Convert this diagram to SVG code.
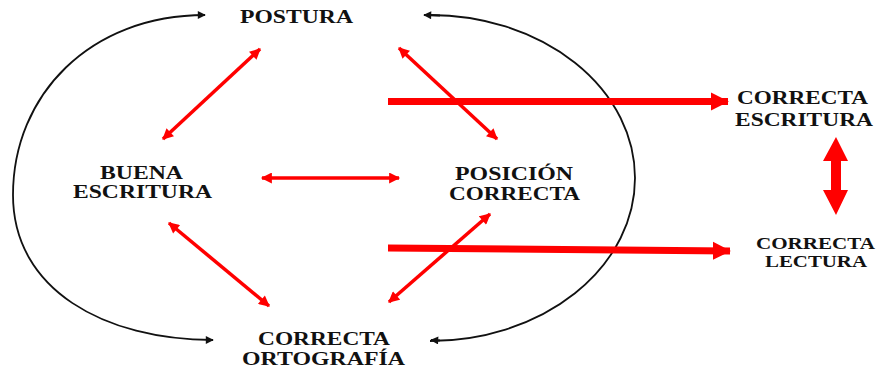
<svg xmlns="http://www.w3.org/2000/svg" width="879" height="373" viewBox="0 0 879 373">
<defs>
<style>
text{font-family:"Liberation Serif","Times New Roman",serif;font-weight:bold;font-size:18px;fill:#111}
.blk{fill:none;stroke:#111;stroke-width:1.8}
.red{fill:none;stroke:#f00;stroke-width:3.5}
.thick{fill:none;stroke:#f00;stroke-width:7}
</style>
<marker id="ah" viewBox="0 0 10 10" refX="9" refY="5" markerWidth="10" markerHeight="8" markerUnits="userSpaceOnUse" orient="auto">
<path d="M0,0 L10,5 L0,10 z" fill="#111"/>
</marker>
<marker id="rh" viewBox="0 0 10 10" refX="9" refY="5" markerWidth="13" markerHeight="11" markerUnits="userSpaceOnUse" orient="auto-start-reverse">
<path d="M0,0 L10,5 L0,10 z" fill="#f00"/>
</marker>
<marker id="th" viewBox="0 0 10 10" refX="9.5" refY="5" markerWidth="18" markerHeight="19" markerUnits="userSpaceOnUse" orient="auto">
<path d="M0,0 L10,5 L0,10 z" fill="#f00"/>
</marker>
</defs>
<g id="connectors">
<path class="blk" d="M13,195 C13,95 90,15 205,15" marker-end="url(#ah)"/>
<path class="blk" d="M13,195 C13,290 105,340 213,340" marker-end="url(#ah)"/>
<path class="blk" d="M430,15 A205,163 0 0 1 430,341"/>
<path class="blk" d="M440,15.5 L424,15" marker-end="url(#ah)"/>
<path class="blk" d="M440,340.5 L431,340" marker-end="url(#ah)"/>
<line class="red" x1="260" y1="49" x2="163" y2="139" marker-start="url(#rh)" marker-end="url(#rh)"/>
<line class="red" x1="399" y1="48" x2="497" y2="139" marker-start="url(#rh)" marker-end="url(#rh)"/>
<line class="red" x1="262" y1="178" x2="399" y2="178" marker-start="url(#rh)" marker-end="url(#rh)"/>
<line class="red" x1="169" y1="223" x2="269" y2="306" marker-start="url(#rh)" marker-end="url(#rh)"/>
<line class="red" x1="490" y1="214" x2="389" y2="302" marker-start="url(#rh)" marker-end="url(#rh)"/>
<line class="thick" x1="388" y1="101.5" x2="728" y2="101.5" marker-end="url(#th)"/>
<line class="thick" x1="388" y1="248" x2="730" y2="251" marker-end="url(#th)"/>
<polygon fill="#f00" points="836,137 848,161 841,161 841,190 848,190 836,215 823,190 831,190 831,161 823,161"/>
</g>
<g id="postura"><text x="240" y="23" textLength="113" lengthAdjust="spacingAndGlyphs">POSTURA</text></g>
<g id="buena-escritura">
<text x="100" y="179" textLength="83" lengthAdjust="spacingAndGlyphs">BUENA</text>
<text x="73" y="198" textLength="139" lengthAdjust="spacingAndGlyphs">ESCRITURA</text>
</g>
<g id="posicion-correcta">
<text x="455" y="180" textLength="118" lengthAdjust="spacingAndGlyphs">POSICIÓN</text>
<text x="449" y="200" textLength="131" lengthAdjust="spacingAndGlyphs">CORRECTA</text>
</g>
<g id="correcta-ortografia">
<text x="258" y="345" textLength="132" lengthAdjust="spacingAndGlyphs">CORRECTA</text>
<text x="242" y="365" textLength="163" lengthAdjust="spacingAndGlyphs">ORTOGRAFÍA</text>
</g>
<g id="correcta-escritura">
<text x="737" y="104" textLength="131" lengthAdjust="spacingAndGlyphs">CORRECTA</text>
<text x="735" y="126" textLength="138" lengthAdjust="spacingAndGlyphs">ESCRITURA</text>
</g>
<g id="correcta-lectura">
<text x="756" y="249" textLength="119" lengthAdjust="spacingAndGlyphs" style="font-size:17px">CORRECTA</text>
<text x="765" y="267" textLength="102" lengthAdjust="spacingAndGlyphs" style="font-size:17px">LECTURA</text>
</g>
</svg>
